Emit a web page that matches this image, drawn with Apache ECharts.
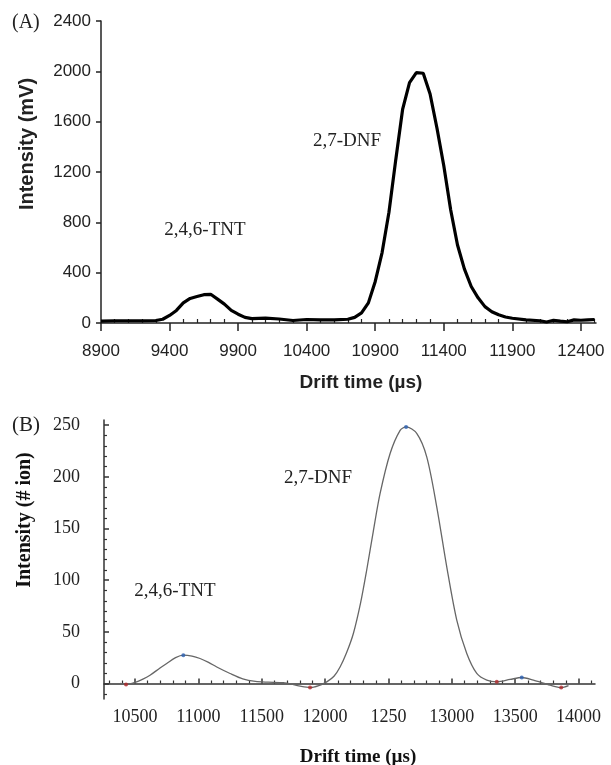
<!DOCTYPE html>
<html>
<head>
<meta charset="utf-8">
<script src="https://cdn.jsdelivr.net/npm/echarts@6/dist/echarts.min.js"></script>
<style>
html,body{margin:0;padding:0;background:#fff;}
#c{width:611px;height:765px;}
</style>
</head>
<body>
<div id="c"></div>
<script>
// ---------- Panel A data ----------
var aTime = [8900,9000,9100,9200,9300,9350,9400,9450,9500,9550,9600,9650,9700,9750,9800,9850,9900,9950,10000,10100,10200,10300,10400,10500,10600,10700,10750,10800,10850,10900,10950,11000,11050,11100,11150,11200,11250,11300,11350,11400,11450,11500,11550,11600,11650,11700,11750,11800,11850,11900,12000,12100,12150,12200,12250,12300,12350,12400,12450,12500];
var aIntensity = [15,18,18,18,20,30,60,100,160,195,210,225,228,190,150,100,70,45,35,38,32,20,28,25,25,30,45,80,160,330,560,880,1300,1700,1910,1990,1985,1820,1550,1250,900,620,430,290,200,130,90,65,48,38,25,18,8,22,15,10,25,22,25,28];
var aXTicks = [8900,9400,9900,10400,10900,11400,11900,12400];

// ---------- Panel B data ----------
var bTime = [10382,10429,10500,10566,10618,10697,10750,10820,10881,10950,11013,11080,11145,11250,11350,11450,11550,11671,11750,11803,11881,11950,12013,12070,12118,12170,12223,12280,12328,12380,12434,12513,12592,12639,12723,12802,12881,12960,13039,13118,13197,13276,13355,13460,13552,13644,13776,13863,13921];
var bIons = [0,-1,1,4.5,8,15,19.4,25,27.4,26.5,24.2,20.5,16,9.7,4.5,2,1.3,0.8,-1,-2.6,-3.9,-2,1.6,7,16,30,48.4,78,109.6,147,183.9,222.6,245,248.3,242,219.3,171,112.9,61.3,29,9.7,3.2,1.6,3.9,5.8,3.2,-1.6,-3.9,-2];
var bMinTime = [10429,11881,13355,13863];
var bMinIons = [-1,-3.9,1.6,-3.9];
var bMaxTime = [10881,12639,13552];
var bMaxIons = [27.4,248.3,5.8];
var bXTicks = [10500,11000,11500,12000,12500,13000,13500,14000];
var bXLabels = ['10500','11000','11500','12000','1250','13000','13500','14000'];
var bYTicks = [0,50,100,150,200,250];

// ---------- helpers ----------
function range(a, b, s) { var r = []; for (var v = a; v <= b + 1e-9; v += s) r.push(v); return r; }
function minus(arr, ex) { return arr.filter(function (v) { return ex.indexOf(v) < 0; }); }
function pairs(xs, ys) { return xs.map(function (x, i) { return [x, ys[i]]; }); }

var aMinor = minus(range(8900, 12500, 100), aXTicks);
var bXMinor = minus(range(10300, 14100, 100), bXTicks);
var bYMinor = minus(range(-10, 250, 10), bYTicks);

var SANS = '"Liberation Sans", Arial, sans-serif';
var SERIF = '"Liberation Serif", "Times New Roman", serif';
var lineA = { lineStyle: { color: '#222', width: 1.5 } };
var lineB = { lineStyle: { color: '#333', width: 1.5 } };

var chart = echarts.init(document.getElementById('c'), null, { renderer: 'canvas' });
chart.setOption({
  animation: false,
  backgroundColor: '#fff',
  grid: [
    { left: 101, top: 21, width: 495, height: 302 },
    { left: 104, top: 420, width: 491, height: 279 }
  ],
  xAxis: [
    { gridIndex: 0, type: 'value', position: 'bottom', min: 8900, max: 12510,
      axisLine: lineA, splitLine: { show: false },
      axisTick: { customValues: aXTicks, length: 8, lineStyle: { color: '#222', width: 1.5 } },
      axisLabel: { customValues: aXTicks, formatter: function (v) { return String(v); },
        fontFamily: SANS, fontSize: 17, color: '#222', margin: 20 } },
    { gridIndex: 0, type: 'value', position: 'bottom', min: 8900, max: 12510, offset: 0,
      axisLine: { show: false }, splitLine: { show: false },
      axisTick: { customValues: aMinor, inside: true, length: 4, lineStyle: { color: '#222', width: 1.2 } },
      axisLabel: { show: false } },
    { gridIndex: 1, type: 'value', position: 'bottom', min: 10255, max: 14130,
      axisLine: lineB, splitLine: { show: false },
      axisTick: { customValues: bXTicks, inside: true, length: 5, lineStyle: { color: '#333', width: 1.5 } },
      axisLabel: { customValues: bXTicks, formatter: function (v) { var i = bXTicks.indexOf(v); return i >= 0 ? bXLabels[i] : ''; },
        fontFamily: SERIF, fontSize: 18, color: '#222', margin: 9 } },
    { gridIndex: 1, type: 'value', position: 'bottom', min: 10255, max: 14130, offset: 0,
      axisLine: { show: false }, splitLine: { show: false },
      axisTick: { customValues: bXMinor, inside: true, length: 3, lineStyle: { color: '#333', width: 1.2 } },
      axisLabel: { show: false } }
  ],
  yAxis: [
    { gridIndex: 0, type: 'value', position: 'left', min: 0, max: 2400, interval: 400,
      axisLine: lineA, splitLine: { show: false },
      axisTick: { length: 5, lineStyle: { color: '#222', width: 1.5 } },
      axisLabel: { formatter: function (v) { return String(v); }, fontFamily: SANS, fontSize: 17, color: '#222', margin: 10 } },
    { gridIndex: 1, type: 'value', position: 'left', min: -15, max: 255,
      axisLine: lineB, splitLine: { show: false },
      axisTick: { customValues: bYTicks, inside: true, length: 5, lineStyle: { color: '#333', width: 1.5 } },
      axisLabel: { customValues: bYTicks, formatter: function (v) { return String(v); }, fontFamily: SERIF, fontSize: 18, color: '#222', margin: 24 } },
    { gridIndex: 1, type: 'value', position: 'left', min: -15, max: 255, offset: 0,
      axisLine: { show: false }, splitLine: { show: false },
      axisTick: { customValues: bYMinor, inside: true, length: 3, lineStyle: { color: '#333', width: 1.2 } },
      axisLabel: { show: false } }
  ],
  series: [
    { type: 'line', xAxisIndex: 0, yAxisIndex: 0, data: pairs(aTime, aIntensity), showSymbol: false,
      lineStyle: { color: '#000', width: 3.2 }, z: 3 },
    { type: 'line', xAxisIndex: 2, yAxisIndex: 1, data: pairs(bTime, bIons), showSymbol: false, smooth: 0.3,
      lineStyle: { color: '#666', width: 1.3 }, z: 3 },
    { type: 'scatter', xAxisIndex: 2, yAxisIndex: 1, data: pairs(bMinTime, bMinIons), symbolSize: 4,
      itemStyle: { color: '#b0282a' }, z: 4 },
    { type: 'scatter', xAxisIndex: 2, yAxisIndex: 1, data: pairs(bMaxTime, bMaxIons), symbolSize: 4,
      itemStyle: { color: '#2a5fb0' }, z: 4 }
  ],
  graphic: [
    { type: 'text', left: 12, top: 13, style: { text: '(A)', font: '20px ' + SERIF, fill: '#222' } },
    { type: 'text', left: 12, top: 415, style: { text: '(B)', font: '21px ' + SERIF, fill: '#222' } },
    { type: 'text', x: 361, y: 383, style: { text: 'Drift time (µs)', font: 'bold 19px ' + SANS, fill: '#222', textAlign: 'center', textVerticalAlign: 'middle' } },
    { type: 'text', x: 27, y: 144, rotation: Math.PI / 2, style: { text: 'Intensity (mV)', font: 'bold 20px ' + SANS, fill: '#222', textAlign: 'center', textVerticalAlign: 'middle' } },
    { type: 'text', x: 358, y: 757, style: { text: 'Drift time (µs)', font: 'bold 19px ' + SERIF, fill: '#111', textAlign: 'center', textVerticalAlign: 'middle' } },
    { type: 'text', x: 25, y: 520, rotation: Math.PI / 2, style: { text: 'Intensity (# ion)', font: 'bold 20px ' + SERIF, fill: '#111', textAlign: 'center', textVerticalAlign: 'middle' } },
    { type: 'text', x: 205, y: 230, style: { text: '2,4,6-TNT', font: '19px ' + SERIF, fill: '#222', textAlign: 'center', textVerticalAlign: 'middle' } },
    { type: 'text', x: 347, y: 141, style: { text: '2,7-DNF', font: '19px ' + SERIF, fill: '#222', textAlign: 'center', textVerticalAlign: 'middle' } },
    { type: 'text', x: 175, y: 591, style: { text: '2,4,6-TNT', font: '19px ' + SERIF, fill: '#222', textAlign: 'center', textVerticalAlign: 'middle' } },
    { type: 'text', x: 318, y: 478, style: { text: '2,7-DNF', font: '19px ' + SERIF, fill: '#222', textAlign: 'center', textVerticalAlign: 'middle' } }
  ]
});
</script>
</body>
</html>
